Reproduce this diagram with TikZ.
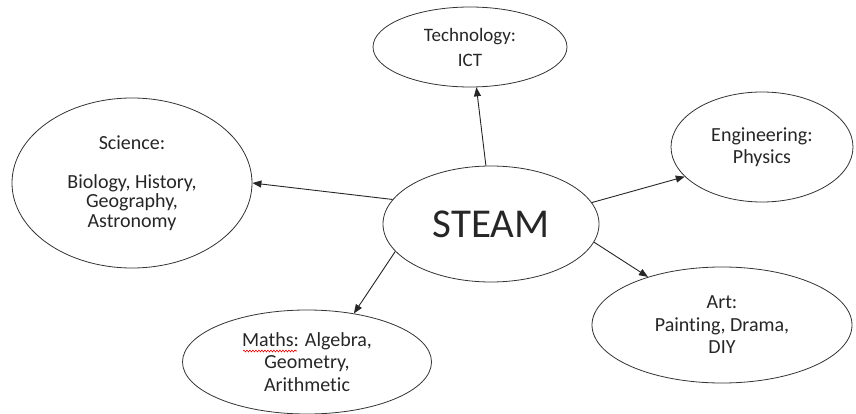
\documentclass[tikz,border=0pt]{standalone}
\usepackage{fontspec}
\setmainfont{Carlito}[Ligatures=NoCommon]
\usetikzlibrary{shapes.geometric,arrows.meta,decorations.pathmorphing}
\begin{document}
\begin{tikzpicture}[x=1pt,y=-1pt,
  bubble/.style={draw=black!80, line width=0.8pt, ellipse, inner sep=0pt, align=center,
    text=black!85, font=\fontsize{20}{22.5}\selectfont},
  link/.style={draw=black!85, line width=0.9pt, -{Triangle[length=9pt,width=7pt]}},
  spell/.style={draw=red!85!black, line width=0.6pt, decorate,
    decoration={snake, amplitude=0.9pt, segment length=3pt}}]
\useasboundingbox (0,0) rectangle (856,414);
\node[bubble, minimum width=216pt, minimum height=116pt, font=\fontsize{41}{44}\selectfont] (steam) at (491,224) {STEAM};
\node[bubble, minimum width=194pt, minimum height=80pt, font=\fontsize{19}{25}\selectfont] (tech) at (470,47) {Technology:\\ICT};
\node[bubble, minimum width=240pt, minimum height=170pt, font=\fontsize{20}{19.5}\selectfont] (sci) at (132,183) {Science:\\[19.5pt]Biology, History,\\Geography,\\Astronomy};
\node[bubble, minimum width=182pt, minimum height=110pt] (eng) at (762,147) {Engineering:\\Physics};
\node[bubble, minimum width=260pt, minimum height=116pt] (art) at (722,325) {Art:\\Painting, Drama,\\DIY};
\node[bubble, minimum width=249pt, minimum height=104pt] (maths) at (307,362) {Maths: Algebra,\\Geometry,\\Arithmetic};
\draw[spell] ([xshift=-64pt,yshift=11pt]maths.center) -- ([xshift=-10pt,yshift=11pt]maths.center);
\draw[link] (steam.95.7) -- (tech.-81);
\draw[link] (steam.166.4) -- (sci.0);
\draw[link] (steam.12.8) -- (eng.201.3);
\draw[link] (steam.-10.7) -- (art.147.7);
\draw[link] (steam.196.5) -- (maths.46.2);
\end{tikzpicture}
\end{document}
